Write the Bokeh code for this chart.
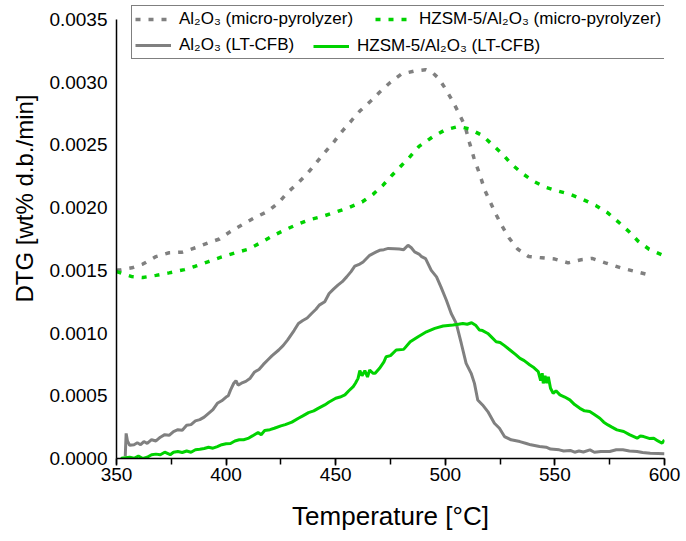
import numpy as np
from bokeh.plotting import figure
from bokeh.models import (Range1d, SingleIntervalTicker, NumeralTickFormatter,
                          Legend, LegendItem, Title)
from bokeh.embed import file_html
from bokeh.resources import INLINE

# ---- data (DTG in units of 1e-3 wt% d.b./min) ----
SCALE = 1e-3

al_micro_T = [350, 352, 357, 362, 368, 374, 380, 386, 392, 397, 402, 408, 413, 419, 424, 428,
              433, 437, 441, 445, 449, 453, 457, 461, 466, 470, 475, 480, 486, 491, 494, 497,
              500, 503, 506, 509, 511, 513, 516, 518, 520.5, 523, 526, 529, 533, 538, 544,
              550, 556, 562, 567, 573, 580, 587, 594]
al_micro_v = [1.50, 1.505, 1.52, 1.55, 1.61, 1.64, 1.645, 1.68, 1.72, 1.75, 1.81, 1.87, 1.92,
              1.97, 2.04, 2.12, 2.20, 2.27, 2.355, 2.44, 2.52, 2.61, 2.69, 2.77, 2.85, 2.92,
              3.00, 3.065, 3.09, 3.10, 3.08, 3.03, 2.95, 2.86, 2.76, 2.65, 2.52, 2.40, 2.25,
              2.14, 2.045, 1.95, 1.85, 1.76, 1.67, 1.61, 1.60, 1.59, 1.56, 1.585, 1.595, 1.56,
              1.52, 1.49, 1.46]

hz_micro_T = [350, 357, 362, 368, 374, 381, 386, 392, 398, 404, 410, 415, 421, 427, 433, 438,
              444, 450, 456, 462, 467, 471.5, 475.6, 480, 484, 488, 494, 500, 506, 511, 517,
              521, 526, 530, 535, 540, 545.5, 551.5, 557, 563, 568.6, 574, 579, 584, 588, 593,
              600]
hz_micro_v = [1.49, 1.45, 1.443, 1.46, 1.48, 1.506, 1.533, 1.57, 1.607, 1.639, 1.668, 1.713,
              1.772, 1.824, 1.87, 1.904, 1.93, 1.965, 2.00, 2.045, 2.106, 2.177, 2.257, 2.336,
              2.408, 2.488, 2.562, 2.62, 2.647, 2.628, 2.575, 2.509, 2.429, 2.35, 2.275, 2.212,
              2.164, 2.132, 2.106, 2.063, 2.018, 1.96, 1.885, 1.806, 1.732, 1.668, 1.615]

al_cfb_T = [354, 354.4, 355, 356, 358, 359.5, 361, 362.5, 364, 366, 368, 370, 372, 374, 376,
            378, 380, 382, 384, 386, 388, 390, 392, 394, 396, 398, 400, 401, 402, 403.5, 404.5,
            405.5, 407, 409, 411, 413, 415, 417, 419, 421, 424, 426, 428, 431, 433, 435, 437,
            439, 441, 442.5, 445, 447, 449, 451, 453, 455, 457, 458.7, 461, 462.5, 465.5,
            468.5, 470, 472, 474, 476.8, 479, 481, 483, 484.5, 486, 488, 489, 491, 493.6, 496,
            498, 500.5, 502.7, 505, 507.3, 509.5, 511.8, 513.3, 514.8, 517, 519.4, 522.4,
            524.7, 527, 530, 534, 537, 539, 543, 546, 548, 552, 554, 557, 559, 561, 563, 566,
            568, 571, 575, 578, 581, 584, 587.5, 590, 593.5, 597, 600]
al_cfb_v = [0.02, 0.20, 0.14, 0.105, 0.11, 0.125, 0.11, 0.135, 0.12, 0.15, 0.14, 0.17, 0.19,
            0.185, 0.215, 0.23, 0.225, 0.265, 0.27, 0.30, 0.31, 0.33, 0.36, 0.39, 0.44, 0.46,
            0.49, 0.50, 0.545, 0.60, 0.62, 0.585, 0.60, 0.615, 0.64, 0.69, 0.71, 0.75, 0.785,
            0.82, 0.865, 0.90, 0.944, 1.02, 1.077, 1.10, 1.12, 1.156, 1.19, 1.223, 1.25, 1.315,
            1.35, 1.382, 1.41, 1.448, 1.49, 1.533, 1.55, 1.567, 1.62, 1.647, 1.66, 1.665,
            1.675, 1.673, 1.67, 1.665, 1.70, 1.68, 1.647, 1.63, 1.612, 1.594, 1.50, 1.448,
            1.368, 1.262, 1.156, 1.077, 0.917, 0.758, 0.679, 0.599, 0.467, 0.427, 0.374, 0.281,
            0.241, 0.175, 0.149, 0.135, 0.12, 0.109, 0.095, 0.09, 0.075, 0.069, 0.06, 0.064,
            0.05, 0.06, 0.052, 0.069, 0.05, 0.056, 0.056, 0.07, 0.069, 0.06, 0.056, 0.048,
            0.042, 0.04, 0.037]

hz_cfb_T = [352, 353, 356, 358, 360, 362, 364, 366, 368, 370, 372, 374.5, 376, 378, 380, 382,
            384, 386, 388, 390, 392, 394, 396, 398, 400, 402, 404, 406, 408, 410, 412, 414.6,
            416, 417.6, 420, 422, 425, 427, 430, 433, 435, 437.6, 440, 442, 445, 447, 450, 452,
            454.2, 456, 458, 459, 460.2, 461, 462, 463.3, 464.5, 465.5, 467, 468, 470, 472,
            473, 475, 477.6, 481, 484, 487.6, 491.4, 495.2, 499, 503.5, 506, 508, 510, 512,
            514, 515.6, 517, 519.4, 521, 523.2, 525, 527, 529.5, 532, 534.1, 536, 538.6, 540,
            542.4, 543.5, 544.2, 544.7, 545.5, 546.3, 547, 548, 549.2, 550.5, 552.3, 554.5,
            556.8, 559, 561.4, 563.5, 565.9, 568, 570.5, 572.3, 574.2, 576, 578.3, 581.4, 584,
            587.5, 589, 590.5, 593, 595.1, 597, 598.9, 600]
hz_cfb_v = [0.0, 0.005, 0.01, 0.002, 0.02, 0.0, 0.01, 0.03, 0.035, 0.03, 0.05, 0.03, 0.05,
            0.056, 0.048, 0.06, 0.05, 0.07, 0.074, 0.08, 0.09, 0.082, 0.095, 0.11, 0.117, 0.12,
            0.14, 0.149, 0.15, 0.16, 0.18, 0.207, 0.19, 0.223, 0.23, 0.241, 0.26, 0.27, 0.29,
            0.321, 0.34, 0.366, 0.38, 0.40, 0.427, 0.45, 0.48, 0.49, 0.507, 0.54, 0.573, 0.60,
            0.639, 0.70, 0.66, 0.70, 0.65, 0.706, 0.68, 0.679, 0.719, 0.77, 0.811, 0.82, 0.865,
            0.87, 0.93, 0.971, 1.01, 1.037, 1.056, 1.064, 1.07, 1.077, 1.07, 1.082, 1.06,
            1.024, 1.02, 0.997, 0.97, 0.931, 0.925, 0.90, 0.865, 0.83, 0.798, 0.78, 0.745,
            0.73, 0.692, 0.62, 0.68, 0.599, 0.66, 0.60, 0.652, 0.56, 0.52, 0.54, 0.507, 0.49,
            0.467, 0.43, 0.40, 0.38, 0.374, 0.35, 0.321, 0.29, 0.268, 0.25, 0.228, 0.215, 0.19,
            0.162, 0.18, 0.175, 0.16, 0.162, 0.14, 0.122, 0.149]

labels = ["Al\u2082O\u2083 (micro-pyrolyzer)", "HZSM-5/Al\u2082O\u2083 (micro-pyrolyzer)",
          "Al\u2082O\u2083 (LT-CFB)", "HZSM-5/Al\u2082O\u2083 (LT-CFB)"]
x_title = "Temperature [\u00b0C]"
y_title = "DTG [wt% d.b./min]"
Y_AXIS_MAX = 0.0035

GRAY = "#808080"
GREEN = "#00d200"
FONT = "Liberation Sans"

# layout (pixels): frame spans x 116..664, y 5..458; the y axis itself ends at 0.0035 (y=19)
FRAME_TOP, AXIS_TOP, FRAME_BOTTOM = 5, 19, 458
y_end = Y_AXIS_MAX * (FRAME_BOTTOM - FRAME_TOP) / (FRAME_BOTTOM - AXIS_TOP)

p = figure(width=686, height=541, output_backend="svg", toolbar_location=None,
           x_range=Range1d(350, 600), y_range=Range1d(0, y_end),
           min_border_left=116, min_border_right=22, min_border_top=FRAME_TOP,
           min_border_bottom=541 - FRAME_BOTTOM)
p.outline_line_color = None
p.xgrid.visible = False
p.ygrid.visible = False
p.background_fill_color = "white"

def sc(v):
    return [x * SCALE for x in v]

r1 = p.line(al_micro_T, sc(al_micro_v), line_color=GRAY, line_width=3.5, line_dash="5 8")
r2 = p.line(hz_micro_T, sc(hz_micro_v), line_color=GREEN, line_width=3.5, line_dash="5 8")
r3 = p.line(al_cfb_T, sc(al_cfb_v), line_color=GRAY, line_width=3)
r4 = p.line(hz_cfb_T, sc(hz_cfb_v), line_color=GREEN, line_width=3)

# axes
xa = p.xaxis[0]
xa.ticker = SingleIntervalTicker(interval=50, num_minor_ticks=2)
xa.axis_label = x_title
ya = p.yaxis[0]
ya.ticker = SingleIntervalTicker(interval=0.0005, num_minor_ticks=0)
ya.formatter = NumeralTickFormatter(format="0.0000")
ya.bounds = (0, Y_AXIS_MAX)

for ax in (xa, ya):
    ax.axis_line_color = "black"
    ax.axis_line_width = 1.5
    ax.major_tick_line_color = "black"
    ax.minor_tick_line_color = "black"
    ax.major_tick_line_width = 1.5
    ax.minor_tick_line_width = 1.5
    ax.major_tick_in = 0
    ax.minor_tick_in = 0
    ax.major_label_text_font = FONT
    ax.major_label_text_font_size = "19px"
    ax.major_label_text_color = "black"
    ax.axis_label_text_font = FONT
    ax.axis_label_text_font_size = "26px"
    ax.axis_label_text_font_style = "normal"
    ax.axis_label_text_color = "black"

xa.major_tick_out = 7
xa.minor_tick_out = 6
xa.major_label_standoff = 2
xa.axis_label_standoff = 17
ya.major_tick_out = 0
ya.minor_tick_out = 0
ya.major_label_standoff = 9

ytitle = Title(text=y_title, align="left", offset=156, standoff=16,
               vertical_align="middle",
               text_font=FONT, text_font_size="24px", text_font_style="normal",
               text_color="black")
p.add_layout(ytitle, "left")

def style_legend(lg):
    lg.label_text_font = FONT
    lg.label_text_font_size = "17px"
    lg.label_text_color = "black"
    lg.glyph_width = 36
    lg.glyph_height = 20
    lg.label_height = 20
    lg.label_standoff = 8
    lg.spacing = 6
    lg.padding = 3
    lg.margin = 0

# framed legend: two rows, the last row-2 entry is drawn by a second, frameless legend
legend = Legend(items=[LegendItem(label=labels[0], renderers=[r1]),
                       LegendItem(label=labels[1], renderers=[r2]),
                       LegendItem(label=labels[2], renderers=[r3])],
                location=(15, 399), orientation="horizontal", nrows=2)
style_legend(legend)
legend.label_width = 190
legend.border_line_color = "black"
legend.border_line_width = 1
legend.background_fill_alpha = 1
p.add_layout(legend, "center")

legend2 = Legend(items=[LegendItem(label=labels[3], renderers=[r4])],
                 location=(197, 402), orientation="horizontal")
style_legend(legend2)
legend2.border_line_color = None
legend2.background_fill_alpha = 0
p.add_layout(legend2, "center")

open("out.html", "w").write(file_html(p, INLINE))
